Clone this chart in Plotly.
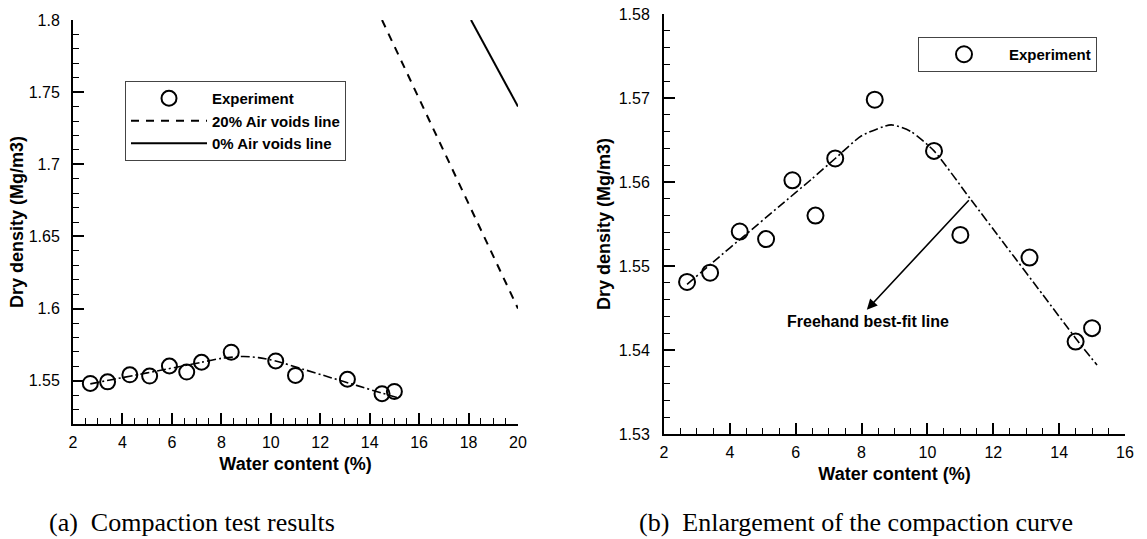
import plotly.graph_objects as go

# Compaction test measurements
water = [2.7, 3.4, 4.3, 5.1, 5.9, 6.6, 7.2, 8.4, 10.2, 11.0, 13.1, 14.5, 15.0]
density = [1.5481, 1.5492, 1.5541, 1.5532, 1.5602, 1.5560, 1.5628, 1.5698,
           1.5637, 1.5537, 1.5510, 1.5410, 1.5426]

# Freehand best-fit compaction curve
fit_w = [2.7, 3.5, 4.5, 5.5, 6.5, 7.2, 8.0, 8.9, 9.5, 10.2, 11.3, 12.4, 13.5, 14.5, 15.15]
fit_d = [1.5478, 1.5505, 1.5538, 1.5571, 1.5604, 1.5628, 1.5655, 1.5668,
         1.5660, 1.5637, 1.5580, 1.5523, 1.5466, 1.5414, 1.5382]

# Air voids lines
air20_w = [14.5, 17.25, 20.0]
air20_d = [1.80, 1.70, 1.60]
air0_w = [18.1, 20.0]
air0_d = [1.80, 1.74]

# Arrow pointing at the best-fit curve
arrow_from = (11.3, 1.5580)
arrow_to = (8.16, 1.5448)
arrow_label = "Freehand best-fit line"

SANS = "Liberation Sans"
SERIF = "Liberation Serif"
DASHDOT = "9px,3px,2px,3px"

fig = go.Figure()

# ---- panel (a) ----
fig.add_trace(go.Scatter(
    x=water, y=density, mode="markers", name="Experiment",
    marker=dict(symbol="circle-open", size=15, color="black", line=dict(width=2)),
    xaxis="x", yaxis="y", legend="legend"))
fig.add_trace(go.Scatter(
    x=fit_w, y=fit_d, mode="lines", showlegend=False,
    line=dict(color="black", width=1.6, dash=DASHDOT, shape="spline", smoothing=0.6),
    xaxis="x", yaxis="y"))
fig.add_trace(go.Scatter(
    x=air20_w, y=air20_d, mode="lines", name="20% Air voids line",
    line=dict(color="black", width=2, dash="8px,7px"),
    xaxis="x", yaxis="y", legend="legend"))
fig.add_trace(go.Scatter(
    x=air0_w, y=air0_d, mode="lines", name="0% Air voids line",
    line=dict(color="black", width=2),
    xaxis="x", yaxis="y", legend="legend"))

# ---- panel (b) ----
fig.add_trace(go.Scatter(
    x=water, y=density, mode="markers", name="Experiment",
    marker=dict(symbol="circle-open", size=16, color="black", line=dict(width=2)),
    xaxis="x2", yaxis="y2", legend="legend2"))
fig.add_trace(go.Scatter(
    x=fit_w, y=fit_d, mode="lines", showlegend=False,
    line=dict(color="black", width=1.6, dash=DASHDOT, shape="spline", smoothing=0.6),
    xaxis="x2", yaxis="y2"))

tick_font = dict(family=SANS, size=16, color="black")
title_font = dict(family=SANS, size=18, color="black", weight="bold")


def axis(domain, rng, dtick, minor, title, standoff, anchor, label_gap):
    return dict(
        domain=domain, range=rng, dtick=dtick, tick0=0, automargin=False,
        showline=True, linecolor="black", linewidth=2, mirror=False,
        ticks="inside", ticklen=11, tickwidth=2, tickcolor="black",
        minor=dict(ticks="inside", ticklen=6, tickwidth=1, tickcolor="black", dtick=minor),
        showgrid=False, zeroline=False, tickfont=tick_font,
        title=dict(text=title, font=title_font, standoff=standoff),
        anchor=anchor, ticklabelstandoff=label_gap)


W, H = 1147, 539
fig.update_layout(
    width=W, height=H, margin=dict(l=0, r=0, t=0, b=0),
    paper_bgcolor="white", plot_bgcolor="white",
    xaxis=axis([73 / W, 518 / W], [2, 20], 2, 0.5, "Water content (%)", 7, "y", 3),
    yaxis=axis([1 - 424 / H, 1 - 20 / H], [1.52, 1.8], 0.05, 0.01,
               "Dry density (Mg/m3)", 0, "x", 8),
    xaxis2=axis([664 / W, 1125 / W], [2, 16], 2, 0.5, "Water content (%)", 7, "y2", 3),
    yaxis2=axis([1 - 434 / H, 1 - 14 / H], [1.53, 1.58], 0.01, 0.002,
                "Dry density (Mg/m3)", 3, "x2", 9),
    legend=dict(x=125 / W, y=1 - 81 / H, xanchor="left", yanchor="top",
                bordercolor="#444", borderwidth=1, bgcolor="white",
                font=dict(family=SANS, size=15, color="black", weight="bold"),
                itemwidth=76, tracegroupgap=0),
    legend2=dict(x=918 / W, y=1 - 37 / H, xanchor="left", yanchor="top",
                 bordercolor="#444", borderwidth=1, bgcolor="white",
                 font=dict(family=SANS, size=15, color="black", weight="bold"),
                 itemwidth=80),
    showlegend=True,
)

fig.add_annotation(
    x=arrow_to[0], y=arrow_to[1], ax=arrow_from[0], ay=arrow_from[1],
    xref="x2", yref="y2", axref="x2", ayref="y2",
    showarrow=True, arrowhead=2, arrowsize=1.3, arrowwidth=1.6, arrowcolor="black", text="")
fig.add_annotation(
    x=8.2, y=1.5434, xref="x2", yref="y2", text=arrow_label, showarrow=False,
    font=dict(family=SANS, size=16, color="black", weight="bold"))

# Panel captions
fig.add_annotation(x=47 / W, y=1 - 522 / H, xref="paper", yref="paper",
                   xanchor="left", yanchor="middle",
                   text="(a)  Compaction test results", showarrow=False,
                   font=dict(family=SERIF, size=26, color="black"))
fig.add_annotation(x=637 / W, y=1 - 522 / H, xref="paper", yref="paper",
                   xanchor="left", yanchor="middle",
                   text="(b)  Enlargement of the compaction curve", showarrow=False,
                   font=dict(family=SERIF, size=26, color="black"))

fig.write_html("out.html")
